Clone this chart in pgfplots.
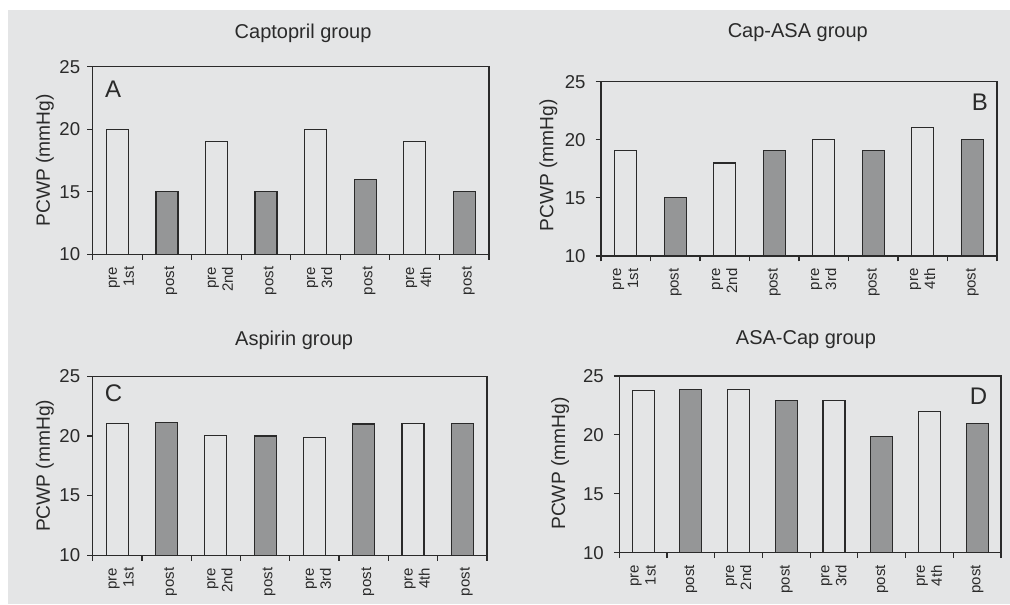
\documentclass[border=0pt]{standalone}
\usepackage{fontspec}
\setmainfont{Liberation Sans}
\usepackage{pgfplots}
\pgfplotsset{compat=1.18}
\definecolor{bg}{HTML}{E4E5E6}
\definecolor{barg}{HTML}{959697}
\definecolor{edge}{HTML}{2A2A2A}
\pgfplotsset{panel/.style={
  scale only axis, anchor=south west,
  ymin=10, ymax=25, ytick={10,15,20,25},
  xmin=-0.5, xmax=7.5,
  xtick={0,...,7},
  xticklabels={{pre\\1st},post,{pre\\2nd},post,{pre\\3rd},post,{pre\\4th},post},
  major x tick style={draw=none},
  minor xtick={-0.5,0.5,...,7.5},
  xtick pos=bottom, ytick pos=left,
  tick align=outside,
  major tick length=2.7pt, minor tick length=2.7pt,
  axis line style={edge, line width=0.6pt},
  every tick/.style={edge, line width=0.6pt},
  minor tick style={edge, line width=0.6pt},
  xticklabel style={rotate=90, anchor=east, align=right, font=\fontsize{7.5}{8.5}\selectfont, text=edge},
  yticklabel style={font=\fontsize{9.3}{10}\selectfont, text=edge},
  /pgf/number format/assume math mode=true,
  ylabel={PCWP (mmHg)},
  ylabel style={font=\fontsize{9.6}{11}\selectfont, text=edge, anchor=center},
  title style={font=\fontsize{10}{12}\selectfont, text=edge, anchor=center},
  ybar, bar width=11pt,
  axis background/.style={fill=bg},
}}
\tikzset{pre/.style={draw=edge, fill=bg, line width=0.6pt, bar shift=0pt},
         post/.style={draw=edge, fill=barg, line width=0.6pt, bar shift=0pt},
         lett/.style={font=\fontsize{12}{14}\selectfont, text=edge}}
\begin{document}
\begin{tikzpicture}
\fill[white] (0,0) rectangle (505pt,302pt);
\fill[bg] (4pt,0) rectangle (505pt,297pt);
\path[use as bounding box] (0,0) rectangle (505pt,302pt);

% Panel A
\begin{axis}[panel, at={(46.3pt,174.85pt)}, width=198.2pt, height=93.8pt,
  title={Captopril group}, title style={at={(axis description cs:0.531,1.116)}},
  ylabel style={at={(axis description cs:-0.120,0.5)}},
  xticklabel style={yshift=-2pt}]
\addplot[pre] coordinates {(0,20) (2,19) (4,20) (6,19)};
\addplot[post] coordinates {(1,15) (3,15) (5,16) (7,15)};
\node[lett] at (axis description cs:0.052,0.879) {A};
\end{axis}

% Panel B
\begin{axis}[panel, at={(300.5pt,174pt)}, width=198pt, height=87.15pt,
  title={Cap-ASA group}, title style={at={(axis description cs:0.497,1.21)}},
  ylabel style={at={(axis description cs:-0.133,0.52)}},
  yticklabel style={xshift=-1.5pt}]
\addplot[pre] coordinates {(0,19.05) (2,18) (4,20) (6,21.05)};
\addplot[post] coordinates {(1,15.05) (3,19.05) (5,19.05) (7,20)};
\node[lett] at (axis description cs:0.957,0.881) {B};
\end{axis}

% Panel C
\begin{axis}[panel, at={(46.3pt,24.35pt)}, width=197.2pt, height=89.5pt,
  title={Aspirin group}, title style={at={(axis description cs:0.511,1.136)}},
  ylabel style={at={(axis description cs:-0.121,0.5)}},
  xticklabel style={yshift=-2pt}]
\addplot[pre] coordinates {(0,21.05) (2,20.05) (4,19.9) (6,21.05)};
\addplot[post] coordinates {(1,21.1) (3,20) (5,21) (7,21.05)};
\node[lett] at (axis description cs:0.053,0.908) {C};
\end{axis}

% Panel D
\begin{axis}[panel, at={(309.65pt,25.65pt)}, width=190.85pt, height=88.35pt,
  title={ASA-Cap group}, title style={at={(axis description cs:0.489,1.14)}},
  ylabel style={at={(axis description cs:-0.155,0.504)}},
  yticklabel style={xshift=-1.5pt}]
\addplot[pre] coordinates {(0,23.8) (2,23.87) (4,22.9) (6,22)};
\addplot[post] coordinates {(1,23.85) (3,22.9) (5,19.85) (7,21)};
\node[lett] at (axis description cs:0.941,0.887) {D};
\end{axis}
\end{tikzpicture}
\end{document}
